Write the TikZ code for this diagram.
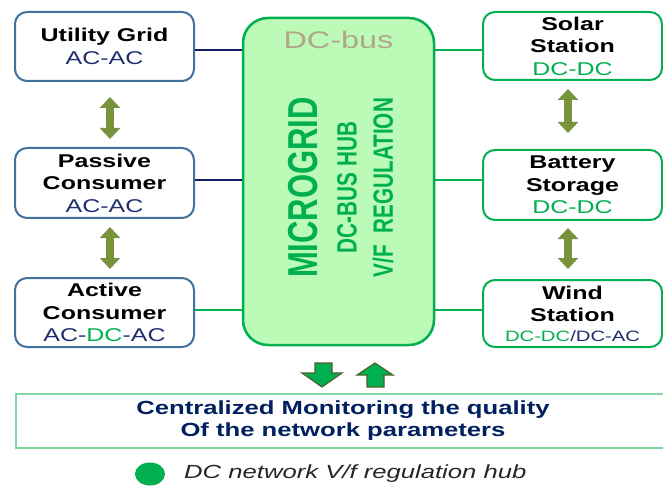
\documentclass[tikz,border=0pt]{standalone}
\usepackage{fontspec}
\setmainfont{Liberation Sans}
\usepackage{graphicx}
\usetikzlibrary{arrows.meta}
\definecolor{navy}{RGB}{31,45,110}
\definecolor{linknavy}{RGB}{16,28,100}
\definecolor{busgreen}{RGB}{0,176,80}
\definecolor{busfill}{RGB}{187,250,183}
\definecolor{steel}{RGB}{65,113,156}
\definecolor{olivegreen}{RGB}{119,147,60}
\definecolor{darkolive}{RGB}{79,98,40}
\definecolor{monitorline}{RGB}{130,215,160}
\definecolor{busgray}{RGB}{178,165,140}
\definecolor{deepnavy}{RGB}{0,32,96}
% wide lettering used throughout the drawing
\newcommand\hs[1]{\scalebox{1.35}[1]{#1}}
\newcommand\vs[1]{\scalebox{1}[1.35]{#1}}

\begin{document}
\begin{tikzpicture}[x=1pt,y=-1pt,
  unit/.style={rounded corners=12pt, line width=2pt, minimum width=179pt,
    minimum height=69pt, align=center, inner sep=0pt,
    font=\fontsize{18.5}{22.5}\selectfont\bfseries, text=black, fill=white},
  acunit/.style={unit, draw=steel},
  dcunit/.style={unit, draw=busgreen},
  navylink/.style={linknavy, line width=2pt},
  greenlink/.style={busgreen, line width=2pt},
  swap/.style={olivegreen, line width=8pt,
    {Triangle[length=11pt,width=20pt]}-{Triangle[length=11pt,width=20pt]}},
  blockarrow/.style={fill=busgreen, draw=darkolive, line width=1.2pt, line join=miter},
  vtext/.style={rotate=90, text=busgreen, inner sep=0pt},
]
\clip (0,0) rectangle (663,486);
\fill[white] (0,0) rectangle (663,486);

% central DC bus
\node[draw=busgreen, fill=busfill, line width=2.5pt, rounded corners=25pt,
  minimum width=191pt, minimum height=327pt] (bus) at (338.5,181.5) {};
\node[text=busgray, font=\fontsize{24}{24}\selectfont] (bustitle) at (338.5,40) {\hs{DC-bus}};
\node[vtext, font=\fontsize{31}{31}\selectfont\bfseries] (mg) at (303,187.5) {\vs{MICROGRID}};
\node[vtext, font=\fontsize{20.7}{20.7}\selectfont\bfseries] (hub) at (347,187.5) {\vs{DC-BUS HUB}};
\node[vtext, font=\fontsize{20.7}{20.7}\selectfont\bfseries] (reg) at (383,187.5) {\vs{V/F\ \ REGULATION}};

% AC side
\node[acunit] (ug) at (104.5,46.5) {\hs{Utility Grid}\\\hs{\mdseries\color{navy}AC-AC}};
\node[acunit, minimum height=70pt] (pc) at (104.5,183) {\hs{Passive}\\\hs{Consumer}\\\hs{\mdseries\color{navy}AC-AC}};
\node[acunit] (ac) at (104.5,312.5) {\hs{Active}\\\hs{Consumer}\\\hs{\mdseries\color{navy}AC-\color{busgreen}DC\color{navy}-AC}};

% DC side
\node[dcunit, minimum height=68pt] (sol) at (572.5,46) {\hs{Solar}\\\hs{Station}\\\hs{\mdseries\color{busgreen}DC-DC}};
\node[dcunit, minimum height=70pt] (bat) at (572.5,185) {\hs{Battery}\\\hs{Storage}\\\hs{\mdseries\color{busgreen}DC-DC}};
\node[dcunit, minimum height=67pt] (wind) at (572.5,313.5) {\hs{Wind}\\\hs{Station}\\[-3pt]\hs{\mdseries\fontsize{15}{18}\selectfont\color{busgreen}DC-DC\color{navy}/DC-AC}};

% links to the bus
\draw[navylink] ([yshift=-3.5pt]ug.east) -- ([yshift=-3.5pt]ug.east -| bus.west);
\draw[navylink] ([yshift=3pt]pc.east) -- ([yshift=3pt]pc.east -| bus.west);
\draw[greenlink] ([yshift=2.5pt]ac.east) -- ([yshift=2.5pt]ac.east -| bus.west);
\draw[greenlink] ([yshift=-4pt]sol.west) -- ([yshift=-4pt]sol.west -| bus.east);
\draw[greenlink] ([yshift=5pt]bat.west) -- ([yshift=5pt]bat.west -| bus.east);
\draw[greenlink] ([yshift=3.5pt]wind.west) -- ([yshift=3.5pt]wind.west -| bus.east);

% exchange arrows between neighbouring units
\draw[swap, shorten <=15pt, shorten >=8pt] ([xshift=5.5pt]ug.south) -- ([xshift=5.5pt]pc.north);
\draw[swap, shorten <=8pt, shorten >=8pt] ([xshift=5.5pt]pc.south) -- ([xshift=5.5pt]ac.north);
\draw[swap, shorten <=8pt, shorten >=16pt] ([xshift=-4.5pt]sol.south) -- ([xshift=-4.5pt]bat.north);
\draw[swap, shorten <=7pt, shorten >=10pt] ([xshift=-4.5pt]bat.south) -- ([xshift=-4.5pt]wind.north);

% monitoring block
\node[draw=monitorline, line width=1.5pt, minimum width=654pt, minimum height=54pt,
  inner sep=0pt, align=center, font=\fontsize{19}{22}\selectfont\bfseries, text=deepnavy]
  (mon) at (343,421) {\hs{Centralized Monitoring the quality}\\\hs{Of the network parameters}};

% data flow between bus and monitoring
\draw[blockarrow] (315,363) -- (332,363) -- (332,373) -- (342,373) -- (322,387)
  -- (302,373) -- (315,373) -- cycle;
\draw[blockarrow] (375,363) -- (393,375) -- (384,375) -- (384,387) -- (367,387)
  -- (367,375) -- (357,375) -- cycle;

% legend
\fill[busgreen] (150,474) ellipse [x radius=15, y radius=11.5];
\node[anchor=west, inner sep=0pt, font=\fontsize{19}{22}\selectfont\itshape, text=black!85]
  (legend) at (184,474) {\hs{DC network V/f regulation hub}};
\end{tikzpicture}
\end{document}
